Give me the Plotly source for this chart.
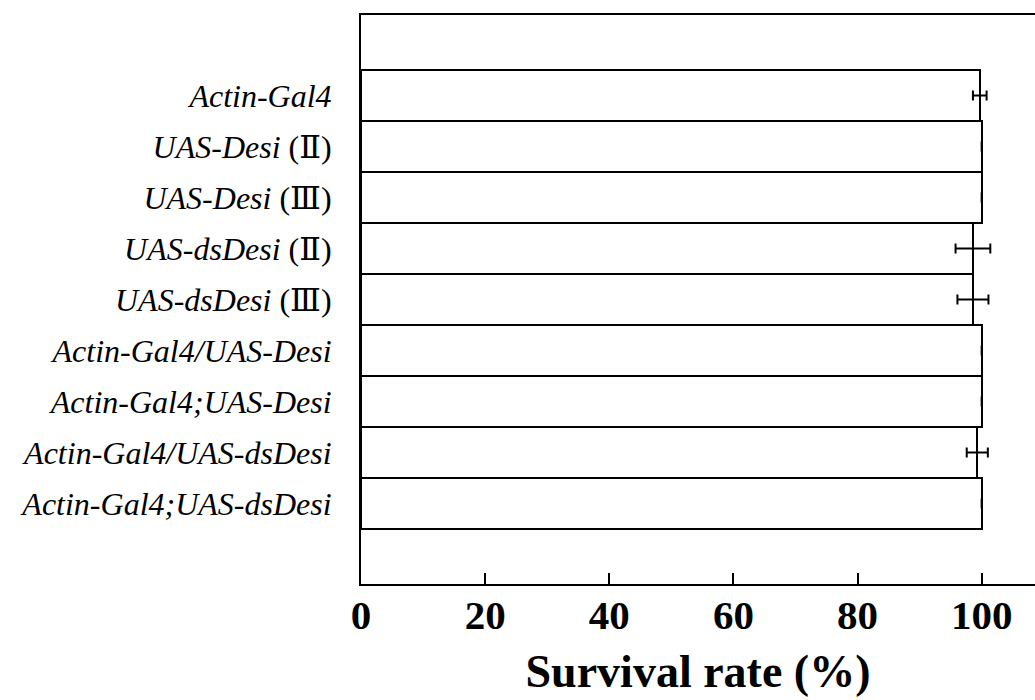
import plotly.graph_objects as go

# Genotypes, top to bottom
roman = '<span style="font-family:DejaVu Serif">{}</span>'
genotypes = [
    "<i>Actin-Gal4</i>",
    "<i>UAS-Desi</i> (" + roman.format("Ⅱ") + ")",
    "<i>UAS-Desi</i> (" + roman.format("Ⅲ") + ")",
    "<i>UAS-dsDesi</i> (" + roman.format("Ⅱ") + ")",
    "<i>UAS-dsDesi</i> (" + roman.format("Ⅲ") + ")",
    "<i>Actin-Gal4/UAS-Desi</i>",
    "<i>Actin-Gal4;UAS-Desi</i>",
    "<i>Actin-Gal4/UAS-dsDesi</i>",
    "<i>Actin-Gal4;UAS-dsDesi</i>",
]
survival = [99.7, 100, 100, 98.6, 98.6, 100, 100, 99.3, 100]
sem = [1.1, 0, 0, 2.8, 2.5, 0, 0, 1.7, 0]
x_ticks = [0, 20, 40, 60, 80, 100]

serif = "Liberation Serif, Times New Roman, serif"

fig = go.Figure(
    go.Bar(
        x=survival,
        y=genotypes,
        orientation="h",
        width=1,
        marker=dict(color="white", line=dict(color="black", width=2)),
        error_x=dict(type="data", array=sem, visible=True,
                     color="black", thickness=2, width=5),
    )
)

fig.update_layout(
    width=1035,
    height=700,
    margin=dict(l=361, r=0, t=15, b=116),
    paper_bgcolor="white",
    plot_bgcolor="white",
    showlegend=False,
    bargap=0,
)

fig.update_xaxes(
    range=[0, 108.6],
    tickvals=x_ticks,
    ticktext=[str(v) for v in x_ticks],
    ticks="inside",
    ticklen=11,
    tickwidth=1.5,
    tickcolor="black",
    showgrid=False,
    zeroline=False,
    showline=True,
    linecolor="black",
    linewidth=2,
    mirror=True,
    ticklabelstandoff=-6,
    tickfont=dict(family=serif, size=41, color="black", weight="bold"),
    title=dict(text="Survival rate (%)", standoff=18,
               font=dict(family=serif, size=46, color="black", weight="bold")),
)

fig.update_yaxes(
    type="category",
    categoryorder="array",
    categoryarray=genotypes,
    range=[9.58, -1.58],
    showgrid=False,
    zeroline=False,
    showline=True,
    linecolor="black",
    linewidth=2,
    mirror=False,
    ticks="",
    ticklabelstandoff=21,
    tickfont=dict(family=serif, size=32, color="black"),
)

fig.write_html("out.html")
